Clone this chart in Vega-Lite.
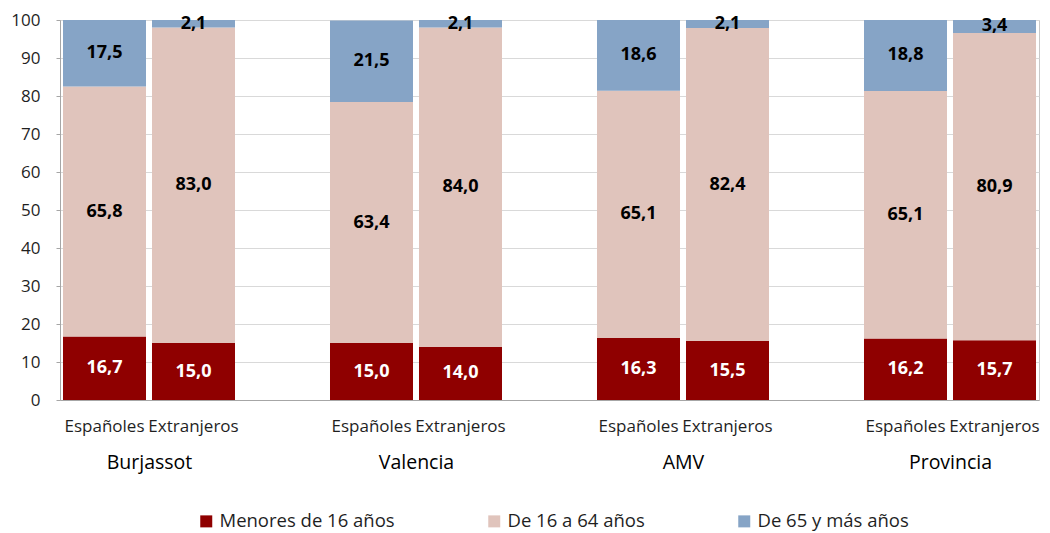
{
  "$schema": "https://vega.github.io/schema/vega-lite/v6.json",
  "width": 979,
  "height": 380,
  "autosize": {"type": "none"},
  "padding": {"left": 60, "top": 20, "right": 11, "bottom": 133},
  "background": "white",
  "config": {
    "font": "Open Sans",
    "locale": {"number": {"decimal": ",", "thousands": ".", "grouping": [3], "currency": ["", " €"]}},
    "view": {"stroke": "#C8C8C8", "strokeWidth": 1},
    "axis": {"labelFont": "Open Sans", "labelColor": "#1F1F1F"},
    "legend": {"labelFont": "Open Sans", "labelColor": "#1F1F1F"}
  },
  "data": {
    "values": [
      {"region": "Burjassot", "tipo": "Españoles", "grupo": "Menores de 16 años", "valor": 16.7},
      {"region": "Burjassot", "tipo": "Españoles", "grupo": "De 16 a 64 años", "valor": 65.8},
      {"region": "Burjassot", "tipo": "Españoles", "grupo": "De 65 y más años", "valor": 17.5},
      {"region": "Burjassot", "tipo": "Extranjeros", "grupo": "Menores de 16 años", "valor": 15.0},
      {"region": "Burjassot", "tipo": "Extranjeros", "grupo": "De 16 a 64 años", "valor": 83.0},
      {"region": "Burjassot", "tipo": "Extranjeros", "grupo": "De 65 y más años", "valor": 2.1},
      {"region": "Valencia", "tipo": "Españoles", "grupo": "Menores de 16 años", "valor": 15.0},
      {"region": "Valencia", "tipo": "Españoles", "grupo": "De 16 a 64 años", "valor": 63.4},
      {"region": "Valencia", "tipo": "Españoles", "grupo": "De 65 y más años", "valor": 21.5},
      {"region": "Valencia", "tipo": "Extranjeros", "grupo": "Menores de 16 años", "valor": 14.0},
      {"region": "Valencia", "tipo": "Extranjeros", "grupo": "De 16 a 64 años", "valor": 84.0},
      {"region": "Valencia", "tipo": "Extranjeros", "grupo": "De 65 y más años", "valor": 2.1},
      {"region": "AMV", "tipo": "Españoles", "grupo": "Menores de 16 años", "valor": 16.3},
      {"region": "AMV", "tipo": "Españoles", "grupo": "De 16 a 64 años", "valor": 65.1},
      {"region": "AMV", "tipo": "Españoles", "grupo": "De 65 y más años", "valor": 18.6},
      {"region": "AMV", "tipo": "Extranjeros", "grupo": "Menores de 16 años", "valor": 15.5},
      {"region": "AMV", "tipo": "Extranjeros", "grupo": "De 16 a 64 años", "valor": 82.4},
      {"region": "AMV", "tipo": "Extranjeros", "grupo": "De 65 y más años", "valor": 2.1},
      {"region": "Provincia", "tipo": "Españoles", "grupo": "Menores de 16 años", "valor": 16.2},
      {"region": "Provincia", "tipo": "Españoles", "grupo": "De 16 a 64 años", "valor": 65.1},
      {"region": "Provincia", "tipo": "Españoles", "grupo": "De 65 y más años", "valor": 18.8},
      {"region": "Provincia", "tipo": "Extranjeros", "grupo": "Menores de 16 años", "valor": 15.7},
      {"region": "Provincia", "tipo": "Extranjeros", "grupo": "De 16 a 64 años", "valor": 80.9},
      {"region": "Provincia", "tipo": "Extranjeros", "grupo": "De 65 y más años", "valor": 3.4}
    ]
  },
  "transform": [
    {"calculate": "datum.region + '|' + datum.tipo", "as": "slot"},
    {"calculate": "indexof(['Menores de 16 años', 'De 16 a 64 años', 'De 65 y más años'], datum.grupo)", "as": "orden"},
    {"stack": "valor", "groupby": ["slot"], "sort": [{"field": "orden", "order": "ascending"}], "as": ["v0", "v1"]},
    {"calculate": "(datum.v0 + datum.v1) / 2", "as": "vm"}
  ],
  "layer": [
    {
      "mark": {"type": "bar", "clip": true},
      "encoding": {
        "x": {
          "field": "slot", "type": "nominal",
          "scale": {"domain": ["Burjassot|Españoles", "Burjassot|Extranjeros", "g1", "Valencia|Españoles", "Valencia|Extranjeros", "g2", "AMV|Españoles", "AMV|Extranjeros", "g3", "Provincia|Españoles", "Provincia|Extranjeros"], "paddingInner": 0.0674, "paddingOuter": 0.0337},
          "axis": {"title": null, "orient": "bottom", "labelExpr": "split(datum.label, '|')[1] || ''", "ticks": false, "labelAngle": 0, "labelFontSize": 17, "labelPadding": 18, "domainColor": "#A6A6A6", "grid": false, "labelOverlap": false, "labelBound": false}
        },
        "y": {
          "field": "v0", "type": "quantitative",
          "scale": {"domain": [0, 100], "nice": false},
          "axis": {"title": null, "values": [0, 10, 20, 30, 40, 50, 60, 70, 80, 90, 100], "labelOverlap": false, "grid": true, "gridColor": "#D9D9D9", "domainColor": "#A6A6A6", "tickColor": "#A6A6A6", "tickSize": 4, "labelFontSize": 17, "labelPadding": 16}
        },
        "y2": {"field": "v1"},
        "color": {
          "field": "grupo", "type": "nominal",
          "sort": ["Menores de 16 años", "De 16 a 64 años", "De 65 y más años"],
          "scale": {"domain": ["Menores de 16 años", "De 16 a 64 años", "De 65 y más años"], "range": ["#8F0000", "#E0C4BC", "#86A4C6"]},
          "legend": {"title": null, "orient": "none", "legendX": 137, "legendY": 492, "direction": "horizontal", "symbolType": "square", "symbolSize": 144, "symbolStrokeWidth": 0, "labelFontSize": 18.5, "labelLimit": 400, "labelOffset": 4, "columnPadding": 90}
        }
      }
    },
    {
      "mark": {"type": "text", "fontWeight": "bold", "fontSize": 18, "font": "Open Sans"},
      "encoding": {
        "x": {
          "field": "slot", "type": "nominal",
          "scale": {"domain": ["Burjassot|Españoles", "Burjassot|Extranjeros", "g1", "Valencia|Españoles", "Valencia|Extranjeros", "g2", "AMV|Españoles", "AMV|Extranjeros", "g3", "Provincia|Españoles", "Provincia|Extranjeros"], "paddingInner": 0.0674, "paddingOuter": 0.0337},
          "axis": null
        },
        "y": {
          "field": "vm", "type": "quantitative",
          "axis": {"title": null, "values": [0, 10, 20, 30, 40, 50, 60, 70, 80, 90, 100], "labelOverlap": false, "grid": true, "gridColor": "#D9D9D9", "domainColor": "#A6A6A6", "tickColor": "#A6A6A6", "tickSize": 4, "labelFontSize": 17, "labelPadding": 16}
        },
        "text": {"field": "valor", "type": "quantitative", "format": ".1f"},
        "color": {"condition": {"test": "datum.orden == 0", "value": "white"}, "value": "black"}
      }
    },
    {
      "mark": {"type": "tick", "opacity": 0},
      "encoding": {
        "x": {
          "field": "region", "type": "nominal",
          "scale": {"type": "point", "domain": ["Burjassot", "Valencia", "AMV", "Provincia"], "padding": 0.3333},
          "axis": {"title": null, "orient": "bottom", "ticks": false, "domain": false, "grid": false, "labelAngle": 0, "labelFontSize": 19.5, "labelPadding": 53, "labelColor": "#000000"}
        }
      }
    }
  ],
  "resolve": {"scale": {"x": "independent"}, "axis": {"x": "independent"}}
}
